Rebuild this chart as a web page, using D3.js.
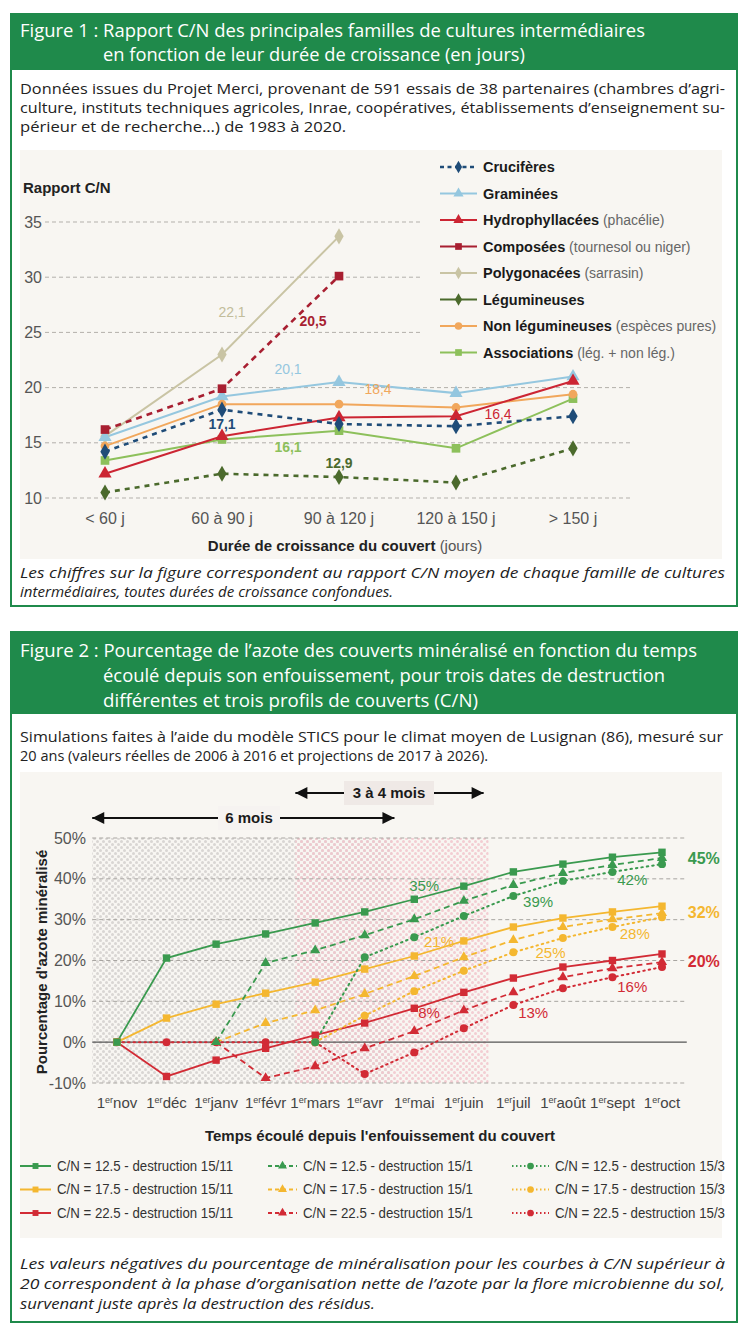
<!DOCTYPE html>
<html><head><meta charset="utf-8">
<script src="https://cdn.jsdelivr.net/npm/d3@7"></script>
<style>body{margin:0;background:#fff}svg{display:block}</style>
</head><body>
<svg id="c" width="747" height="1331"></svg>
<script>
// ---------- Figure 1 data ----------
const categories = ["< 60 j", "60 à 90 j", "90 à 120 j", "120 à 150 j", "> 150 j"];
const yTicks1 = [10, 15, 20, 25, 30, 35];
const cruciferes      = [14.2, 18.0, 16.7, 16.5, 17.4];
const graminees       = [15.5, 19.2, 20.5, 19.5, 21.0];
const hydrophyllacees = [12.2, 15.6, 17.3, 17.4, 20.6];
const composees       = [16.2, 19.9, 30.1, null, null];
const polygonacees    = [15.6, 23.0, 33.7, null, null];
const legumineuses    = [10.5, 12.2, 11.9, 11.4, 14.5];
const nonLegumineuses = [14.7, 18.5, 18.5, 18.2, 19.4];
const associations    = [13.4, 15.3, 16.1, 14.5, 19.0];
const legendNames1 = ["Crucifères", "Graminées", "Hydrophyllacées", "Composées", "Polygonacées", "Légumineuses", "Non légumineuses", "Associations"];
const legendNotes1 = ["", "", "(phacélie)", "(tournesol ou niger)", "(sarrasin)", "", "(espèces pures)", "(lég. + non lég.)"];
const meanLabels1 = ["22,1", "20,5", "20,1", "18,4", "17,1", "16,1", "12,9", "16,4"];

// ---------- Figure 2 data ----------
const months = ["nov", "déc", "janv", "févr", "mars", "avr", "mai", "juin", "juil", "août", "sept", "oct"];
const yTicks2 = [-10, 0, 10, 20, 30, 40, 50];
const green1511  = [0, 20.6, 24.0, 26.5, 29.2, 31.9, 35.0, 38.2, 41.7, 43.6, 45.3, 46.5];
const green151   = [null, null, 0, 19.4, 22.5, 26.2, 30.1, 34.6, 38.5, 41.4, 43.4, 45.1];
const green153   = [null, null, null, null, 0, 20.8, 25.7, 30.9, 35.8, 39.5, 41.7, 43.6];
const yellow1511 = [0, 5.9, 9.3, 12.0, 14.7, 17.9, 21.1, 24.8, 28.2, 30.4, 31.9, 33.3];
const yellow151  = [null, null, 0, 4.7, 7.8, 11.8, 16.2, 20.8, 25.0, 28.2, 30.1, 31.6];
const yellow153  = [null, null, null, null, 0, 6.5, 12.5, 17.5, 22.0, 25.5, 28.2, 30.6];
const red1511    = [0, -8.4, -4.4, -1.5, 1.7, 4.7, 8.3, 12.2, 15.7, 18.4, 20.0, 21.6];
const red151     = [null, null, 0, -8.8, -5.9, -1.5, 2.7, 7.8, 12.2, 15.9, 18.1, 19.6];
const red153     = [0, 0, 0, 0, 0, -7.8, -2.5, 3.4, 9.1, 13.2, 15.9, 18.4];
const legendNames2 = ["C/N = 12.5 - destruction 15/11", "C/N = 12.5 - destruction 15/1", "C/N = 12.5 - destruction 15/3",
                      "C/N = 17.5 - destruction 15/11", "C/N = 17.5 - destruction 15/1", "C/N = 17.5 - destruction 15/3",
                      "C/N = 22.5 - destruction 15/11", "C/N = 22.5 - destruction 15/1", "C/N = 22.5 - destruction 15/3"];
const endLabels2 = ["45%", "32%", "20%"];
const innerLabels2 = ["35%", "39%", "42%", "21%", "25%", "28%", "8%", "13%", "16%"];

// ---------- drawing ----------
const svg = d3.select("#c");
const GREEN = "#1f8a4b", BEIGE = "#f8f6f2";
const SANS = "'Liberation Sans', Arial, sans-serif";
const COND = "'Liberation Sans Narrow', 'Liberation Sans', Arial, sans-serif";
const HUM = "'Open Sans', 'Noto Sans', sans-serif";

function txt(g, x, y, s, o = {}) {
  const t = g.append("text").attr("x", x).attr("y", y).attr("dy", "0.35em").text(s)
    .attr("font-family", o.ff || SANS).attr("font-size", o.fs || 14)
    .attr("fill", o.fill || "#222").attr("text-anchor", o.anchor || "start");
  if (o.fw) t.attr("font-weight", o.fw);
  if (o.fst) t.attr("font-style", o.fst);
  if (o.tl) t.attr("textLength", o.tl).attr("lengthAdjust", "spacingAndGlyphs");
  return t;
}
function marker(g, type, x, y, size, color) {
  const sym = {diamond: d3.symbolDiamond, triangle: d3.symbolTriangle, square: d3.symbolSquare, circle: d3.symbolCircle}[type];
  g.append("path").attr("d", d3.symbol(sym, size)).attr("transform", `translate(${x},${y})`).attr("fill", color);
}

// defs: patterns
const defs = svg.append("defs");
function pat(id, col) {
  const p = defs.append("pattern").attr("id", id).attr("width", 6).attr("height", 6).attr("patternUnits", "userSpaceOnUse");
  p.append("circle").attr("cx", 1.5).attr("cy", 1.5).attr("r", 1.5).attr("fill", col);
  p.append("circle").attr("cx", 4.5).attr("cy", 4.5).attr("r", 1.5).attr("fill", col);
}
pat("pGray", "#d9d6d3");
pat("pPink", "#f2c6cd");
defs.append("marker").attr("id", "ah").attr("viewBox", "0 0 10 10").attr("refX", 10).attr("refY", 5)
  .attr("markerWidth", 7).attr("markerHeight", 6).attr("orient", "auto-start-reverse").attr("markerUnits", "strokeWidth")
  .append("path").attr("d", "M0,0L10,5L0,10Z").attr("fill", "#111");

// ================= FIGURE 1 =================
const f1 = svg.append("g");
f1.append("rect").attr("x", 11).attr("y", 14).attr("width", 726).attr("height", 592).attr("fill", "#fff").attr("stroke", GREEN).attr("stroke-width", 2);
f1.append("rect").attr("x", 11).attr("y", 14).attr("width", 726).attr("height", 56).attr("fill", GREEN);
txt(f1, 20, 31, "Figure 1 : Rapport C/N des principales familles de cultures intermédiaires", {ff: HUM, fs: 17.5, fill: "#fff", tl: 625, fw: 500});
txt(f1, 103, 55, "en fonction de leur durée de croissance (en jours)", {ff: HUM, fs: 17.5, fill: "#fff", tl: 422, fw: 500});
txt(f1, 20, 89, "Données issues du Projet Merci, provenant de 591 essais de 38 partenaires (chambres d’agri-", {ff: HUM, fs: 15, tl: 705});
txt(f1, 20, 108, "culture, instituts techniques agricoles, Inrae, coopératives, établissements d’enseignement su-", {ff: HUM, fs: 15, tl: 705});
txt(f1, 20, 127, "périeur et de recherche…) de 1983 à 2020.", {ff: HUM, fs: 15, tl: 326});
f1.append("rect").attr("x", 20).attr("y", 150).attr("width", 702).attr("height", 409).attr("fill", BEIGE);

const x1 = d3.scalePoint().domain(categories).range([105, 573]);
const y1 = d3.scaleLinear().domain([10, 35]).range([498, 222]);
// grid
yTicks1.forEach(t => {
  f1.append("line").attr("x1", 45).attr("x2", 633).attr("y1", y1(t)).attr("y2", y1(t))
    .attr("stroke", "#b3b0ab").attr("stroke-dasharray", "4,3").attr("stroke-width", 1);
  txt(f1, 42, y1(t), String(t), {fs: 16, fill: "#555", anchor: "end"});
});
categories.forEach(c => txt(f1, x1(c), 518, c, {fs: 16, fill: "#555", anchor: "middle"}));
txt(f1, 23, 188, "Rapport C/N", {fs: 15, fw: "bold", fill: "#222"});
const xt = f1.append("text").attr("x", 345).attr("y", 546).attr("dy", "0.35em").attr("text-anchor", "middle")
  .attr("font-family", SANS).attr("font-size", 15).attr("fill", "#222");
xt.append("tspan").attr("font-weight", "bold").text("Durée de croissance du couvert ");
xt.append("tspan").attr("fill", "#555").text("(jours)");

const series1 = [
  {d: polygonacees, c: "#c9c4a4", m: "diamond", dash: null},
  {d: associations, c: "#8dc05b", m: "square", dash: null},
  {d: graminees, c: "#95c7df", m: "triangle", dash: null},
  {d: nonLegumineuses, c: "#f1a75c", m: "circle", dash: null},
  {d: hydrophyllacees, c: "#cc2533", m: "triangle", dash: null},
  {d: cruciferes, c: "#1f4c78", m: "diamond", dash: "5,5"},
  {d: legumineuses, c: "#4b6a2c", m: "diamond", dash: "5,5"},
  {d: composees, c: "#a81f31", m: "square", dash: "6,5"}
];
const line1 = d3.line().defined(d => d.v != null).x(d => x1(d.c)).y(d => y1(d.v));
series1.forEach(s => {
  const pts = s.d.map((v, i) => ({c: categories[i], v}));
  f1.append("path").attr("d", line1(pts)).attr("fill", "none").attr("stroke", s.c)
    .attr("stroke-width", s.dash ? 2.6 : 2).attr("stroke-dasharray", s.dash);
});
series1.forEach(s => s.d.forEach((v, i) => { if (v != null) marker(f1, s.m, x1(categories[i]), y1(v), s.m === "circle" ? 60 : 75, s.c); }));

// mean labels
const ml = [
  {t: meanLabels1[0], c: categories[1], dx: 10, v: 26.8, col: "#c2bd9b", fw: "normal"},
  {t: meanLabels1[1], c: categories[2], dx: -26, v: 26.0, col: "#a81f31", fw: "bold"},
  {t: meanLabels1[2], c: categories[1], dx: 66, v: 21.7, col: "#95c7df", fw: "normal"},
  {t: meanLabels1[3], c: categories[2], dx: 39, v: 19.9, col: "#f1a75c", fw: "normal"},
  {t: meanLabels1[4], c: categories[1], dx: 0, v: 16.7, col: "#1f4c78", fw: "bold"},
  {t: meanLabels1[5], c: categories[1], dx: 66, v: 14.6, col: "#8dc05b", fw: "bold"},
  {t: meanLabels1[6], c: categories[2], dx: 0, v: 13.2, col: "#4b6a2c", fw: "bold"},
  {t: meanLabels1[7], c: categories[3], dx: 42, v: 17.6, col: "#cc2533", fw: "normal"}
];
ml.forEach(l => txt(f1, x1(l.c) + l.dx, y1(l.v), l.t, {fs: 14, fill: l.col, fw: l.fw, anchor: "middle"}));

// legend
const lg1 = f1.append("g");
lg1.append("rect").attr("x", 422).attr("y", 154).attr("width", 299).attr("height", 212).attr("fill", BEIGE);
const legOrder = [5, 2, 4, 7, 0, 6, 3, 1]; // map legend row -> series1 index
legendNames1.forEach((n, i) => {
  const s = series1[legOrder[i]];
  const yy = 167 + i * 26.5;
  lg1.append("line").attr("x1", 440).attr("x2", 477).attr("y1", yy).attr("y2", yy).attr("stroke", s.c)
    .attr("stroke-width", i === 0 ? 2.4 : 2).attr("stroke-dasharray", i === 0 ? "4,3.5" : null);
  marker(lg1, s.m, 458.5, yy, 45, s.c);
  const t = lg1.append("text").attr("x", 483).attr("y", yy).attr("dy", "0.35em").attr("font-family", SANS).attr("font-size", 14.5);
  t.append("tspan").attr("font-weight", "bold").attr("fill", "#1a1a1a").text(n);
  if (legendNotes1[i]) t.append("tspan").attr("fill", "#666").attr("font-size", 14).text(" " + legendNotes1[i]);
});

txt(f1, 20, 573, "Les chiffres sur la figure correspondent au rapport C/N moyen de chaque famille de cultures", {ff: HUM, fs: 15, fst: "italic", tl: 705});
txt(f1, 20, 592, "intermédiaires, toutes durées de croissance confondues.", {ff: HUM, fs: 15, fst: "italic", tl: 373});

// ================= FIGURE 2 =================
const f2 = svg.append("g");
f2.append("rect").attr("x", 11).attr("y", 632).attr("width", 726).attr("height", 690).attr("fill", "#fff").attr("stroke", GREEN).attr("stroke-width", 2);
f2.append("rect").attr("x", 11).attr("y", 632).attr("width", 726).attr("height", 82).attr("fill", GREEN);
txt(f2, 20, 651, "Figure 2 : Pourcentage de l’azote des couverts minéralisé en fonction du temps", {ff: HUM, fs: 18, fill: "#fff", tl: 677, fw: 500});
txt(f2, 103, 676, "écoulé depuis son enfouissement, pour trois dates de destruction", {ff: HUM, fs: 18, fill: "#fff", tl: 562, fw: 500});
txt(f2, 103, 701, "différentes et trois profils de couverts (C/N)", {ff: HUM, fs: 18, fill: "#fff", tl: 375, fw: 500});
txt(f2, 20, 737, "Simulations faites à l’aide du modèle STICS pour le climat moyen de Lusignan (86), mesuré sur", {ff: HUM, fs: 15, tl: 703});
txt(f2, 20, 756, "20 ans (valeurs réelles de 2006 à 2016 et projections de 2017 à 2026).", {ff: HUM, fs: 15, tl: 468});
f2.append("rect").attr("x", 20).attr("y", 772).attr("width", 702).attr("height", 466).attr("fill", BEIGE);

const x2 = d3.scalePoint().domain(months).range([117, 662]);
const xi = d3.scaleLinear().domain([0, months.length - 1]).range([117, 662]);
const y2 = d3.scaleLinear().domain([-10, 50]).range([1083, 838]);

// shaded periods
f2.append("rect").attr("x", xi(-0.5)).attr("y", y2(50)).attr("width", xi(5.55) - xi(-0.5)).attr("height", y2(-10) - y2(50)).attr("fill", "url(#pGray)");
f2.append("rect").attr("x", xi(3.6)).attr("y", y2(50)).attr("width", xi(7.5) - xi(3.6)).attr("height", y2(-10) - y2(50)).attr("fill", "url(#pPink)").attr("opacity", 0.85);

yTicks2.forEach(t => {
  f2.append("line").attr("x1", xi(-0.5)).attr("x2", xi(11.5)).attr("y1", y2(t)).attr("y2", y2(t))
    .attr("stroke", t === 0 ? "#555" : "#a8a5a1").attr("stroke-width", t === 0 ? 1.4 : 1)
    .attr("stroke-dasharray", t === 0 ? null : "4,3");
  txt(f2, 86, y2(t), t + "%", {fs: 16, fill: "#555", anchor: "end"});
});
months.forEach(m => {
  const t = f2.append("text").attr("x", x2(m)).attr("y", 1103).attr("dy", "0.35em").attr("text-anchor", "middle")
    .attr("font-family", COND).attr("font-size", 15).attr("fill", "#444");
  t.append("tspan").text("1");
  t.append("tspan").attr("font-size", 9).attr("dy", "-0.6em").text("er");
  t.append("tspan").attr("dy", "0.37em").text(m);
});
txt(f2, 380, 1136, "Temps écoulé depuis l'enfouissement du couvert", {fs: 15, fw: "bold", anchor: "middle"});
f2.append("text").attr("transform", `translate(42,962) rotate(-90)`).attr("dy", "0.35em").attr("text-anchor", "middle")
  .attr("font-family", SANS).attr("font-size", 15).attr("font-weight", "bold").attr("fill", "#222").text("Pourcentage d'azote minéralisé");

// arrows
function arrow(y, a, b, label, lx, bw, bg) {
  f2.append("line").attr("x1", a).attr("x2", b).attr("y1", y).attr("y2", y).attr("stroke", "#111").attr("stroke-width", 2)
    .attr("marker-start", "url(#ah)").attr("marker-end", "url(#ah)");
  f2.append("rect").attr("x", lx - bw / 2).attr("y", y - 12).attr("width", bw).attr("height", 24).attr("fill", bg);
  txt(f2, lx, y, label, {fs: 15, fw: "bold", anchor: "middle", fill: "#1a1a1a"});
}
arrow(818, xi(-0.5), xi(5.6), "6 mois", 249, 62, "#f6f3f1");
arrow(793, xi(3.6), xi(7.4), "3 à 4 mois", 389, 90, "#efe9e6");

const G = "#3a9a4f", Y = "#f4b730", R = "#d22b35";
const series2 = [
  {d: green1511, c: G, k: "solid"}, {d: green151, c: G, k: "dash"}, {d: green153, c: G, k: "dot"},
  {d: yellow1511, c: Y, k: "solid"}, {d: yellow151, c: Y, k: "dash"}, {d: yellow153, c: Y, k: "dot"},
  {d: red1511, c: R, k: "solid"}, {d: red151, c: R, k: "dash"}, {d: red153, c: R, k: "dot"}
];
const style = {solid: {dash: null, m: "square", w: 1.8}, dash: {dash: "6,4", m: "triangle", w: 1.8}, dot: {dash: "1.5,4", m: "circle", w: 2}};
const line2 = d3.line().defined(d => d.v != null).x(d => x2(d.m)).y(d => y2(d.v));
[...series2].reverse().forEach(s => {
  const pts = s.d.map((v, i) => ({m: months[i], v}));
  f2.append("path").attr("d", line2(pts)).attr("fill", "none").attr("stroke", s.c).attr("stroke-width", style[s.k].w)
    .attr("stroke-dasharray", style[s.k].dash).attr("stroke-linecap", s.k === "dot" ? "round" : "butt");
});
[...series2].reverse().forEach(s => s.d.forEach((v, i) => {
  if (v != null) marker(f2, style[s.k].m, x2(months[i]), y2(v), s.k === "solid" ? 55 : s.k === "dash" ? 45 : 50, s.c);
}));

// labels
const endCols = [G, Y, R];
const endVals = [45, 31.9, 19.8];
endLabels2.forEach((l, i) => txt(f2, xi(11.5) + 1, y2(endVals[i]), l, {fs: 16, fill: endCols[i], fw: "bold"}));
const inner = [
  {i: 6.2, v: 38.2, c: G}, {i: 8.5, v: 34.3, c: G}, {i: 10.4, v: 39.7, c: G},
  {i: 6.5, v: 24.7, c: Y}, {i: 8.75, v: 21.8, c: Y}, {i: 10.45, v: 26.5, c: Y},
  {i: 6.3, v: 7.1, c: R}, {i: 8.4, v: 7.3, c: R}, {i: 10.4, v: 13.5, c: R}
];
innerLabels2.forEach((l, k) => txt(f2, xi(inner[k].i), y2(inner[k].v), l, {fs: 15, fill: inner[k].c, anchor: "middle"}));

// legend fig 2
const colX = [{l: 20, t: 57}, {l: 268, t: 303}, {l: 512, t: 555}];
legendNames2.forEach((n, k) => {
  const s = series2[k];
  const col = k % 3, row = Math.floor(k / 3);
  const yy = 1166 + row * 23.5;
  const cx = colX[col];
  f2.append("line").attr("x1", cx.l).attr("x2", cx.t - 6).attr("y1", yy).attr("y2", yy).attr("stroke", s.c)
    .attr("stroke-width", 2).attr("stroke-dasharray", s.k === "dash" ? "4,3" : s.k === "dot" ? "1.5,2.5" : null);
  marker(f2, style[s.k].m, (cx.l + cx.t - 6) / 2, yy, 35, s.c);
  txt(f2, cx.t, yy, n, {ff: COND, fs: 14, fill: "#333", tl: col === 0 ? 176 : 170});
});

txt(f2, 20, 1264, "Les valeurs négatives du pourcentage de minéralisation pour les courbes à C/N supérieur à", {ff: HUM, fs: 15, fst: "italic", tl: 705});
txt(f2, 20, 1284, "20 correspondent à la phase d’organisation nette de l’azote par la flore microbienne du sol,", {ff: HUM, fs: 15, fst: "italic", tl: 705});
txt(f2, 20, 1304, "survenant juste après la destruction des résidus.", {ff: HUM, fs: 15, fst: "italic", tl: 355});
</script>
</body></html>
